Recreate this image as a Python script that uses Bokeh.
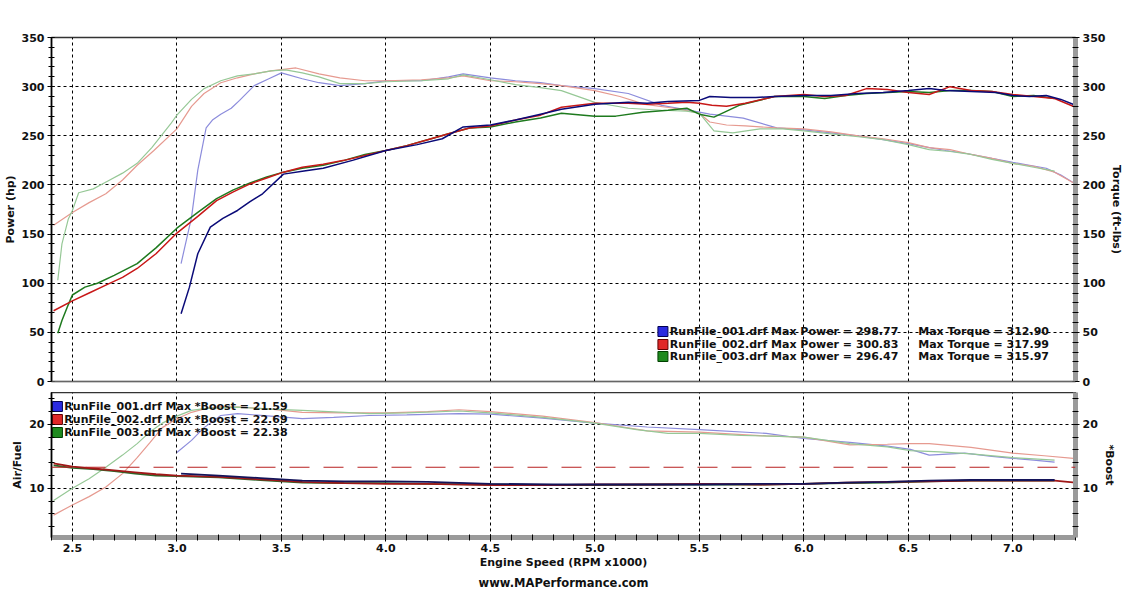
from bokeh.plotting import figure
from bokeh.layouts import column
from bokeh.models import Label, Range1d, LinearAxis, SingleIntervalTicker, NumeralTickFormatter, Span, Title
from bokeh.embed import file_html
from bokeh.resources import INLINE

FONT = "DejaVu Sans"

# ---------------- data ----------------
rpm_p1 = [3.02,3.06,3.10,3.16,3.22,3.29,3.35,3.41,3.51,3.6,3.7,3.84,4.0,4.15,4.27,4.37,4.5,4.62,4.74,4.84,5.0,5.16,5.25,5.35,5.5,5.55,5.65,5.77,5.86,6.0,6.13,6.26,6.38,6.5,6.6,6.68,6.8,6.92,7.0,7.08,7.16,7.23,7.3]
hp1 = [69,96,130,157,166,174,183,191,211,214,217,225,235,241,247,259,261,266,272,277,282,284,283,285,286,290,289,289,290,291,291,293,294,296,298,296,295,294,291,290,291,287,281]

rpm_p2 = [2.41,2.5,2.58,2.66,2.74,2.81,2.9,3.0,3.1,3.19,3.27,3.35,3.43,3.51,3.6,3.7,3.8,3.9,4.0,4.1,4.2,4.3,4.4,4.5,4.62,4.74,4.84,5.0,5.16,5.25,5.35,5.44,5.5,5.56,5.63,5.72,5.86,6.0,6.1,6.2,6.3,6.4,6.5,6.6,6.7,6.8,6.9,7.0,7.1,7.2,7.3]
hp2 = [72,82,90,98,106,115,130,151,168,184,193,201,207,213,218,221,225,230,235,240,246,252,258,260,266,271,279,283,283,282,283,284,283,281,280,283,290,292,290,291,298,297,294,292,300,296,295,292,290,288,279]

rpm_p3 = [2.43,2.45,2.48,2.5,2.56,2.62,2.7,2.81,2.9,3.0,3.1,3.19,3.27,3.35,3.43,3.51,3.6,3.7,3.8,3.9,4.0,4.1,4.2,4.3,4.4,4.5,4.62,4.74,4.84,5.0,5.1,5.23,5.35,5.44,5.5,5.57,5.69,5.86,6.0,6.1,6.2,6.3,6.4,6.5,6.6,6.7,6.8,6.9,7.0,7.1,7.2]
hp3 = [49,62,78,88,96,100,108,120,136,156,172,186,195,202,208,213,217,220,225,231,235,240,246,252,258,259,264,268,273,270,270,274,276,278,272,269,281,290,290,288,291,293,294,295,294,296,296,295,290,291,288]

rpm_t1 = [3.02,3.07,3.1,3.14,3.17,3.21,3.26,3.3,3.37,3.44,3.5,3.6,3.68,3.78,3.9,4.0,4.17,4.3,4.37,4.5,4.62,4.74,4.84,5.0,5.16,5.32,5.5,5.55,5.71,5.87,6.0,6.13,6.26,6.38,6.5,6.6,6.68,6.78,6.9,7.0,7.08,7.16,7.23,7.3]
tq1 = [120,167,215,258,266,272,278,286,301,308,314,308,304,301,303,306,306,310,313,309,306,304,301,298,293,281,274,272,268,258,256,253,250,246,242,238,235,232,227,223,220,217,210,201]

rpm_t2 = [2.41,2.5,2.58,2.66,2.74,2.81,2.89,3.0,3.07,3.13,3.21,3.29,3.37,3.45,3.57,3.68,3.78,3.9,4.0,4.17,4.3,4.37,4.5,4.62,4.74,4.84,5.0,5.12,5.24,5.38,5.5,5.55,5.63,5.72,5.87,6.0,6.13,6.26,6.38,6.5,6.6,6.7,6.8,6.9,7.0,7.1,7.2,7.3]
tq2 = [159,172,182,191,205,220,235,257,280,293,304,309,313,316,319,313,309,306,306,307,309,311,306,305,303,301,296,290,282,278,273,264,261,260,258,257,254,250,247,243,238,236,231,227,222,219,213,201]

rpm_t3 = [2.43,2.45,2.48,2.5,2.53,2.6,2.67,2.74,2.81,2.88,2.97,3.0,3.07,3.13,3.21,3.29,3.37,3.45,3.52,3.6,3.68,3.78,3.9,4.0,4.17,4.3,4.37,4.5,4.62,4.74,4.84,5.0,5.16,5.32,5.44,5.5,5.57,5.66,5.79,5.9,6.0,6.13,6.26,6.38,6.5,6.6,6.7,6.8,6.9,7.0,7.1,7.2]
tq3 = [103,140,165,174,192,196,204,212,222,238,262,271,287,298,306,311,313,316,317,314,310,303,303,305,306,308,312,307,302,299,296,284,278,276,275,273,255,253,257,257,255,252,249,246,241,236,234,231,226,222,218,214]

rpm_b1 = [3.0,3.07,3.13,3.21,3.29,3.45,3.6,3.75,3.92,4.1,4.35,4.5,4.75,5.0,5.25,5.5,5.82,6.0,6.22,6.4,6.51,6.6,6.77,6.9,7.0,7.1,7.2]
boost1 = [15.6,17.5,19.5,21.4,21.7,21.3,20.9,21.1,21.4,21.5,21.7,21.6,21.0,20.2,19.6,19.2,18.6,17.8,17.2,16.6,16.1,15.2,15.5,15.0,14.7,14.4,14.1]

rpm_b2 = [2.41,2.5,2.58,2.66,2.74,2.81,2.87,2.93,3.0,3.07,3.14,3.21,3.3,3.45,3.6,3.8,4.0,4.2,4.35,4.5,4.75,5.0,5.25,5.5,5.82,6.0,6.22,6.4,6.51,6.6,6.8,7.0,7.15,7.29]
boost2 = [5.8,7.4,8.7,10.2,12.3,14.8,17.1,19.5,20.9,21.9,22.5,22.8,22.7,22.4,21.9,21.8,21.8,22.0,22.3,22.0,21.3,20.3,19.0,18.8,18.2,18.0,16.8,16.9,17.0,17.0,16.4,15.5,15.1,14.7]

rpm_b3 = [2.41,2.5,2.58,2.66,2.74,2.81,2.87,2.93,3.0,3.07,3.14,3.29,3.45,3.6,3.8,3.92,4.1,4.35,4.5,4.75,5.0,5.2,5.35,5.5,5.7,6.0,6.22,6.4,6.51,6.65,6.8,7.0,7.1,7.2]
boost3 = [8.1,10.0,11.5,13.3,15.2,17.0,18.8,20.2,21.3,22.2,22.5,22.7,22.4,22.2,21.9,21.7,21.8,22.1,21.8,21.1,20.2,19.2,18.6,18.6,18.3,18.0,17.0,16.5,15.9,15.7,15.4,14.8,14.6,14.4]

rpm_a1 = [3.02,3.2,3.4,3.6,3.8,4.0,4.2,4.5,4.8,5.0,5.3,5.5,5.8,6.0,6.2,6.4,6.6,6.8,7.0,7.2]
afr1 = [12.3,12.0,11.6,11.2,11.1,11.1,11.0,10.7,10.6,10.6,10.6,10.6,10.7,10.7,10.9,11.0,11.2,11.3,11.3,11.3]
rpm_a2 = [2.41,2.5,2.6,2.7,2.8,2.9,3.0,3.2,3.4,3.6,3.8,4.0,4.2,4.5,4.8,5.0,5.3,5.5,5.8,6.0,6.2,6.4,6.6,6.8,7.0,7.2,7.3]
afr2 = [13.9,13.4,13.1,12.8,12.5,12.2,12.0,11.8,11.4,11.0,10.8,10.7,10.7,10.5,10.5,10.6,10.6,10.7,10.6,10.7,10.9,11.0,11.1,11.2,11.2,11.2,10.9]
rpm_a3 = [2.41,2.5,2.6,2.7,2.8,2.9,3.0,3.2,3.4,3.6,3.8,4.0,4.2,4.5,4.8,5.0,5.3,5.5,5.8,6.0,6.2,6.4,6.6,6.8,7.0,7.2]
afr3 = [13.6,13.2,13.0,12.7,12.3,12.0,11.9,11.7,11.3,10.9,10.8,10.8,10.7,10.6,10.5,10.5,10.6,10.6,10.6,10.7,10.8,10.9,11.1,11.2,11.2,11.2]

target_afr = 13.3

run_names = ["RunFile_001.drf", "RunFile_002.drf", "RunFile_003.drf"]
max_power = ["298.77", "300.83", "296.47"]
max_torque = ["312.90", "317.99", "315.97"]
max_boost = ["21.59", "22.69", "22.38"]

dark_cols = ["#0a0a78", "#c81818", "#1e7a1e"]
light_cols = ["#8c8cdc", "#e69a90", "#96c896"]
afr_cols = ["#14145a", "#a01818", "#2a6a2a"]
sq_fill = ["#2a2ae0", "#e02828", "#1e8a1e"]
sq_line = ["#000050", "#600000", "#004000"]

# ---------------- geometry helpers ----------------
W = 1126
H1 = 392
XL, XR = 2.4, 7.3
FL, FR = 45, 1080           # frame left/right in px
T1, B1 = 37, 381            # top frame top/bottom
T2, B2 = 392, 537           # bottom frame top/bottom
Y2L, Y2H = 2.3, 25.0

def px_x(px):
    return XL + (px - FL) * (XR - XL) / (FR - FL)

def py_y1(py):
    return (B1 - py) * 350.0 / (B1 - T1)

def py_y2(py):
    return Y2L + (B2 - py) * (Y2H - Y2L) / (B2 - T2)

def style_axis(ax, interval, minor, fmt=None):
    ax.ticker = SingleIntervalTicker(interval=interval, num_minor_ticks=minor)
    ax.major_label_text_font = FONT
    ax.major_label_text_font_style = "bold"
    ax.major_label_text_font_size = "11px"
    ax.major_label_text_color = "#111111"
    ax.axis_label_text_font = FONT
    ax.axis_label_text_font_style = "bold"
    ax.axis_label_text_font_size = "11px"
    ax.axis_label_text_color = "#111111"
    ax.major_tick_in = 3
    ax.major_tick_out = 4
    ax.minor_tick_in = 3
    ax.minor_tick_out = 3
    ax.major_tick_line_color = "black"
    ax.minor_tick_line_color = "black"
    ax.major_label_standoff = 3
    ax.axis_label_standoff = 2
    if fmt:
        ax.formatter = NumeralTickFormatter(format=fmt)

# ---------------- top panel ----------------
p1 = figure(width=W, height=H1, x_range=Range1d(XL, XR), y_range=Range1d(0, 350),
            output_backend="svg", toolbar_location=None,
            min_border_left=FL, min_border_right=W - FR, min_border_top=T1, min_border_bottom=H1 - B1)
p1.outline_line_color = "#333333"
p1.outline_line_width = 1.5

xa = p1.xaxis[0]
xa.ticker = SingleIntervalTicker(interval=0.5, num_minor_ticks=5)
xa.visible = False

ya = p1.yaxis[0]
style_axis(ya, 50, 5)
ya.axis_label = "Power (hp)"
ya.axis_line_color = "black"
ya.axis_line_width = 1.5

ra = LinearAxis(axis_label="Torque (ft-lbs)")
style_axis(ra, 50, 5)
ra.axis_line_color = "#9a9a9a"
ra.axis_line_width = 5
p1.add_layout(ra, "right")

for g in (p1.xgrid[0], p1.ygrid[0]):
    g.grid_line_color = "black"
    g.grid_line_dash = "3 3"
    g.grid_line_width = 1

for rx, ry, c in [(rpm_t1, tq1, light_cols[0]), (rpm_t2, tq2, light_cols[1]), (rpm_t3, tq3, light_cols[2])]:
    p1.line(rx, ry, line_color=c, line_width=1.2)
for rx, ry, c in [(rpm_p3, hp3, dark_cols[2]), (rpm_p2, hp2, dark_cols[1]), (rpm_p1, hp1, dark_cols[0])]:
    p1.line(rx, ry, line_color=c, line_width=1.5)

# thick grey "shadow" along the bottom of the top panel
p1.add_layout(Span(location=py_y1(B1 + 2), dimension="width", line_color="#9a9a9a", line_width=5))

def add_text(p, x, y, text, size="12px", align="center"):
    p.add_layout(Label(x=x, y=y, text=text, text_font=FONT, text_font_style="bold",
                       text_font_size=size, text_align=align, text_baseline="middle",
                       text_color="#111111"))

add_text(p1, px_x(563), py_y1(10), "DYNOJET RESEARCH")
add_text(p1, px_x(563), py_y1(24), "Modern Automotive Performance")
add_text(p1, px_x(1120), py_y1(7), "CF: STD\u00a0\u00a0Smoothing: 5", align="right")

leg_y = [331, 344, 356]
p1.scatter([px_x(663)] * 3, [py_y1(v) for v in leg_y], marker="square", size=10,
           fill_color=sq_fill, line_color=sq_line, line_width=1)
for i in range(3):
    add_text(p1, px_x(670), py_y1(leg_y[i]), f"{run_names[i]} Max Power = {max_power[i]}", size="11px", align="left")
    add_text(p1, px_x(921), py_y1(leg_y[i]), f"Max Torque = {max_torque[i]}", size="11px", align="left")

# ---------------- bottom panel ----------------
p2 = figure(width=W, height=592 - H1, x_range=p1.x_range, y_range=Range1d(Y2L, Y2H),
            output_backend="svg", toolbar_location=None,
            min_border_left=FL, min_border_right=W - FR, min_border_top=T2 - H1, min_border_bottom=592 - B2)
p2.outline_line_color = "#333333"
p2.outline_line_width = 1.5

xb = p2.xaxis[0]
style_axis(xb, 0.5, 5, "0.0")
xb.axis_label = "Engine Speed (RPM x1000)"
xb.axis_line_color = "#9a9a9a"
xb.axis_line_width = 5
xb.major_label_standoff = 2
xb.axis_label_standoff = 1

yb = p2.yaxis[0]
style_axis(yb, 10, 5)
yb.axis_label = "Air/Fuel"
yb.axis_line_color = "black"
yb.axis_line_width = 1.5

rb = LinearAxis(axis_label="*Boost")
style_axis(rb, 10, 5)
rb.axis_line_color = "#9a9a9a"
rb.axis_line_width = 5
p2.add_layout(rb, "right")

for g in (p2.xgrid[0], p2.ygrid[0]):
    g.grid_line_color = "black"
    g.grid_line_dash = "3 3"
    g.grid_line_width = 1

p2.add_layout(Span(location=target_afr, dimension="width", line_color="#b82020",
                   line_width=1.2, line_dash="20 14"))

for rx, ry, c in [(rpm_b1, boost1, light_cols[0]), (rpm_b2, boost2, light_cols[1]), (rpm_b3, boost3, light_cols[2])]:
    p2.line(rx, ry, line_color=c, line_width=1.2)
for rx, ry, c in [(rpm_a3, afr3, afr_cols[2]), (rpm_a2, afr2, afr_cols[1]), (rpm_a1, afr1, afr_cols[0])]:
    p2.line(rx, ry, line_color=c, line_width=1.8)

leg2_y = [406, 419, 432]
p2.scatter([px_x(51)] * 3, [py_y2(v) for v in leg2_y], marker="square", size=10,
           fill_color=sq_fill, line_color=sq_line, line_width=1)
for i in range(3):
    add_text(p2, px_x(58), py_y2(leg2_y[i]), f"{run_names[i]} Max *Boost = {max_boost[i]}", size="11px", align="left")

p2.add_layout(Title(text="www.MAPerformance.com", align="center", text_font=FONT,
                    text_font_style="bold", text_font_size="11.5px", text_color="#111111",
                    standoff=4), "below")

layout = column(p1, p2, spacing=0)
open("out.html", "w").write(file_html(layout, INLINE))
